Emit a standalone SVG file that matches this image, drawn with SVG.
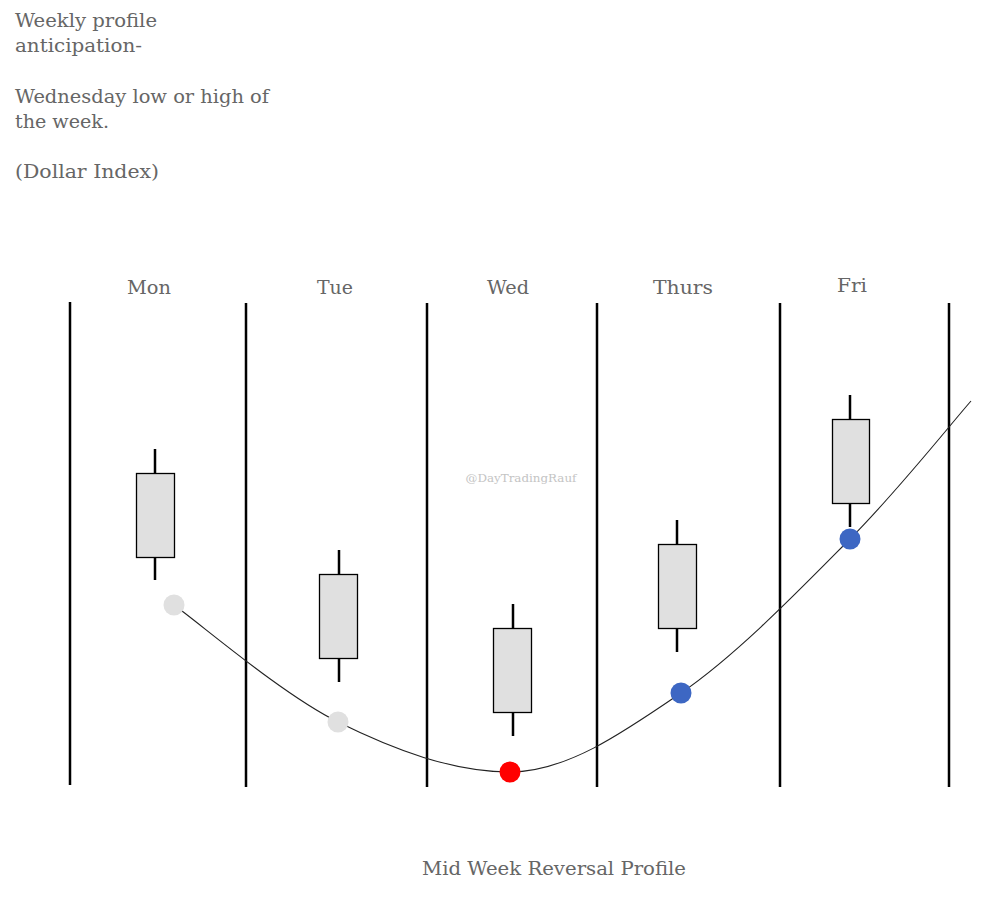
<svg xmlns="http://www.w3.org/2000/svg" width="995" height="901" viewBox="0 0 995 901">
<style>
.t{font-family:"DejaVu Serif","Liberation Serif",serif;fill:#666;font-size:18px}
.day{font-family:"DejaVu Serif","Liberation Serif",serif;fill:#666;font-size:18px;text-anchor:middle}
.sep{stroke:#000;stroke-width:2.5}
.wick{stroke:#000;stroke-width:2.5}
.body{fill:#e0e0e0;stroke:#000;stroke-width:1.3}
</style>
<rect width="995" height="901" fill="#fff"/>
<g id="title">
<text class="t" x="15" y="27" textLength="142" lengthAdjust="spacingAndGlyphs">Weekly profile</text>
<text class="t" x="15" y="52" textLength="127" lengthAdjust="spacingAndGlyphs">anticipation-</text>
<text class="t" x="15" y="103" textLength="254" lengthAdjust="spacingAndGlyphs">Wednesday low or high of</text>
<text class="t" x="15" y="128" textLength="94" lengthAdjust="spacingAndGlyphs">the week.</text>
<text class="t" x="15" y="178" textLength="144" lengthAdjust="spacingAndGlyphs">(Dollar Index)</text>
</g>
<g id="separators">
<line class="sep" x1="70" y1="302" x2="70" y2="785"/>
<line class="sep" x1="246" y1="303" x2="246" y2="787"/>
<line class="sep" x1="427" y1="303" x2="427" y2="787"/>
<line class="sep" x1="597" y1="303" x2="597" y2="787"/>
<line class="sep" x1="780" y1="303" x2="780" y2="787"/>
<line class="sep" x1="949" y1="303" x2="949" y2="787"/>
</g>
<g id="day-labels">
<text class="day" x="149" y="294" textLength="44" lengthAdjust="spacingAndGlyphs">Mon</text>
<text class="day" x="335" y="294" textLength="36" lengthAdjust="spacingAndGlyphs">Tue</text>
<text class="day" x="508" y="294" textLength="42" lengthAdjust="spacingAndGlyphs">Wed</text>
<text class="day" x="683" y="294" textLength="60" lengthAdjust="spacingAndGlyphs">Thurs</text>
<text class="day" x="852" y="292" textLength="30" lengthAdjust="spacingAndGlyphs">Fri</text>
</g>
<text x="521" y="482" font-family="DejaVu Serif, serif" font-size="10.5" fill="#c4c4c4" text-anchor="middle" textLength="111" lengthAdjust="spacingAndGlyphs">@DayTradingRauf</text>
<g id="candle-mon">
<line class="wick" x1="155" y1="449" x2="155" y2="580"/>
<rect class="body" x="136.5" y="473.5" width="38" height="84"/>
</g>
<g id="candle-tue">
<line class="wick" x1="339" y1="550" x2="339" y2="682"/>
<rect class="body" x="319.5" y="574.5" width="38" height="84"/>
</g>
<g id="candle-wed">
<line class="wick" x1="513" y1="604" x2="513" y2="736"/>
<rect class="body" x="493.5" y="628.5" width="38" height="84"/>
</g>
<g id="candle-thu">
<line class="wick" x1="677" y1="520" x2="677" y2="652"/>
<rect class="body" x="658.5" y="544.5" width="38" height="84"/>
</g>
<g id="candle-fri">
<line class="wick" x1="850" y1="395" x2="850" y2="527"/>
<rect class="body" x="832.5" y="419.5" width="37" height="84"/>
</g>
<g id="connectors">
<path d="M174,605 C201.3,624.5 282,694.2 338,722 C394,749.8 453,772 510,772 C567,772 624.3,731.8 681,693 C737.7,654.2 801.7,587.7 850,539 C898.3,490.3 950.8,424 971,401" fill="none" stroke="#222" stroke-width="1.1"/>
</g>
<g id="dot-mon"><circle cx="174" cy="605" r="10.5" fill="#e0e0e0"/></g>
<g id="dot-tue"><circle cx="338" cy="722" r="10.5" fill="#e0e0e0"/></g>
<g id="dot-wed"><circle cx="510" cy="772" r="10.5" fill="#ff0000"/></g>
<g id="dot-thu"><circle cx="681" cy="693" r="10.5" fill="#3d67c3"/></g>
<g id="dot-fri"><circle cx="850" cy="539" r="10.5" fill="#3d67c3"/></g>
<text class="t" x="422" y="875" font-size="19" textLength="264" lengthAdjust="spacingAndGlyphs">Mid Week Reversal Profile</text>
</svg>
